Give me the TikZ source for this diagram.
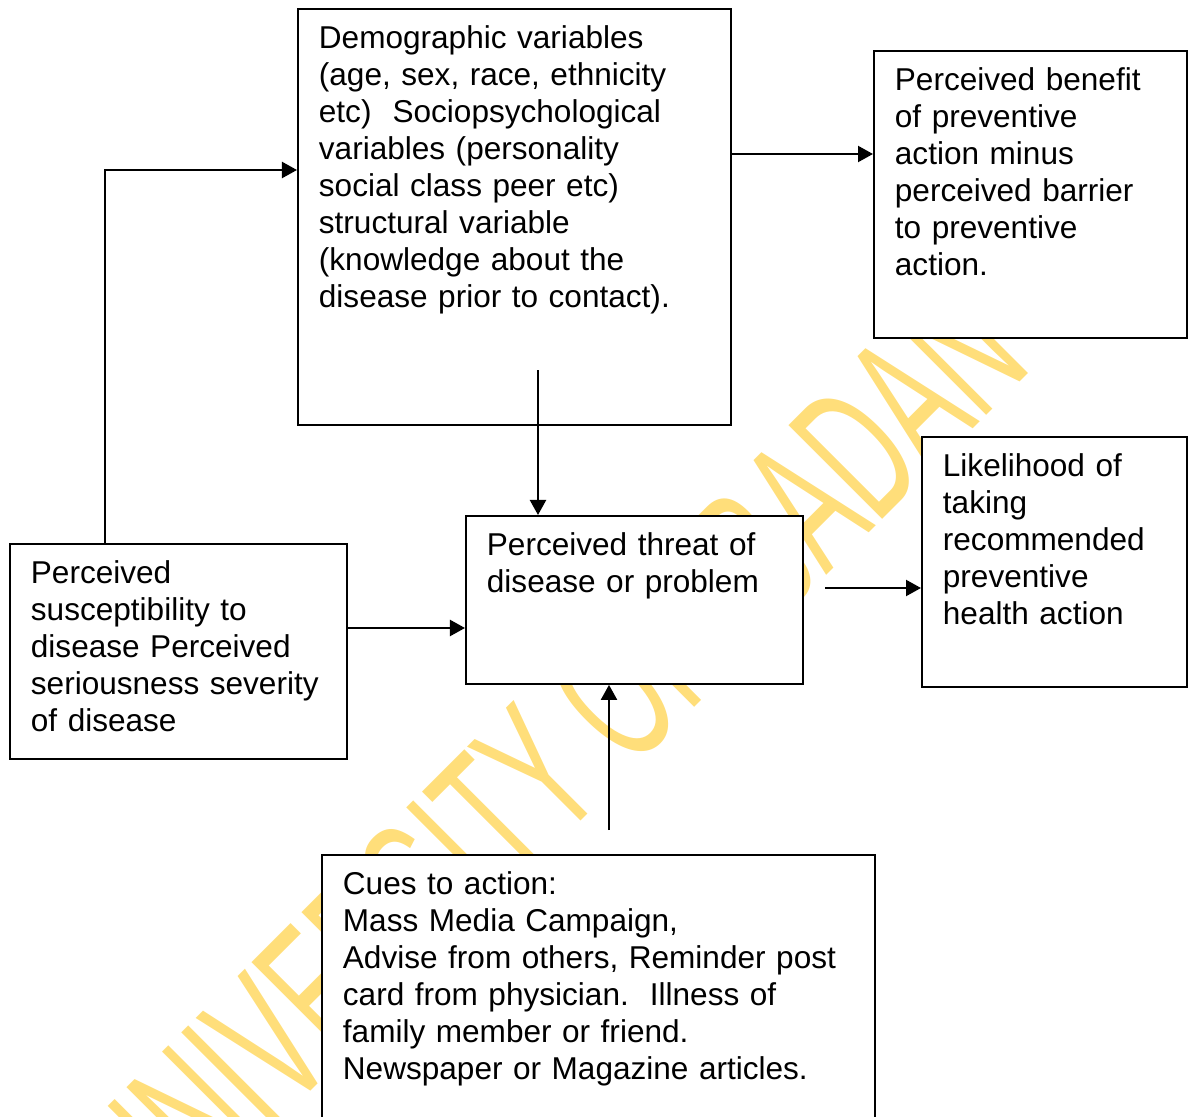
\documentclass[tikz,border=0pt]{standalone}
\usepackage{fontspec}
\setmainfont{Liberation Sans}
\newfontfamily\wmfont[FakeStretch=0.55]{Liberation Sans}
\usepackage{xcolor}
\usepackage{tikz}
\usetikzlibrary{arrows.meta}
\definecolor{wmyellow}{RGB}{255,222,122}

\begin{document}
\begin{tikzpicture}[
    x=0.025cm, y=-0.025cm,
    box/.style={rectangle,draw,fill=white,line width=1.3pt,anchor=north west,align=left,
      inner xsep=0.525cm,inner ysep=0.5cm,text height=0.5cm,
      font=\fontsize{22.45pt}{26.25pt}\selectfont},
    arrow/.style={-{Triangle[length=0.375cm,width=0.4cm]},line width=1.5pt},
    wmtext/.style={text=wmyellow,inner sep=0pt,anchor=base west,rotate=45,
      font=\wmfont\fontsize{137pt}{137pt}\selectfont}
]
\useasboundingbox (0,0) rectangle (1193,1117);
% watermark behind the boxes
\node[wmtext] (wm) at (160,1242) {UNIVERSITY OF IBADAN};

\node[box,text width=9.775cm,text depth=8.9cm] (demo) at (297,8)
  {Demographic variables\\(age, sex, race, ethnicity\\etc)~~Sociopsychological\\variables (personality\\social class peer etc)\\structural variable\\(knowledge about the\\disease prior to contact).};
\node[box,text width=6.775cm,text depth=5.675cm] (benefit) at (873,50)
  {Perceived benefit\\of preventive\\action minus\\perceived barrier\\to preventive\\action.};
\node[box,text width=5.575cm,text depth=4.75cm] (likeli) at (921,436)
  {Likelihood of\\taking\\recommended\\preventive\\health action};
\node[box,text width=7.375cm,text depth=2.7cm] (threat) at (465,515)
  {Perceived threat of\\disease or problem};
\node[box,text width=7.375cm,text depth=3.875cm] (suscep) at (9,543)
  {Perceived\\susceptibility to\\disease Perceived\\seriousness severity\\of disease};
\node[box,text width=12.775cm,text depth=5.65cm] (cues) at (321,854)
  {Cues to action:\\Mass Media Campaign,\\Advise from others, Reminder post\\card from physician.~~Illness of\\family member or friend.\\Newspaper or Magazine articles.};

% loose arrow ends
\coordinate (demoout) at (538,370);
\coordinate (threatout) at (825,588);
\coordinate (cuesout) at (609,830);

\draw[arrow] (suscep.north -| 105,0) |- (demo.west |- 0,170);
\draw[arrow] (demo.east |- 0,154) -- (benefit.west |- 0,154);
\draw[arrow] (demoout) -- (demoout |- threat.north);
\draw[arrow] (suscep.east |- 0,628) -- (threat.west |- 0,628);
\draw[arrow] (threatout) -- (threatout -| likeli.west);
\draw[arrow] (cuesout) -- (cuesout |- threat.south);
\end{tikzpicture}
\end{document}
